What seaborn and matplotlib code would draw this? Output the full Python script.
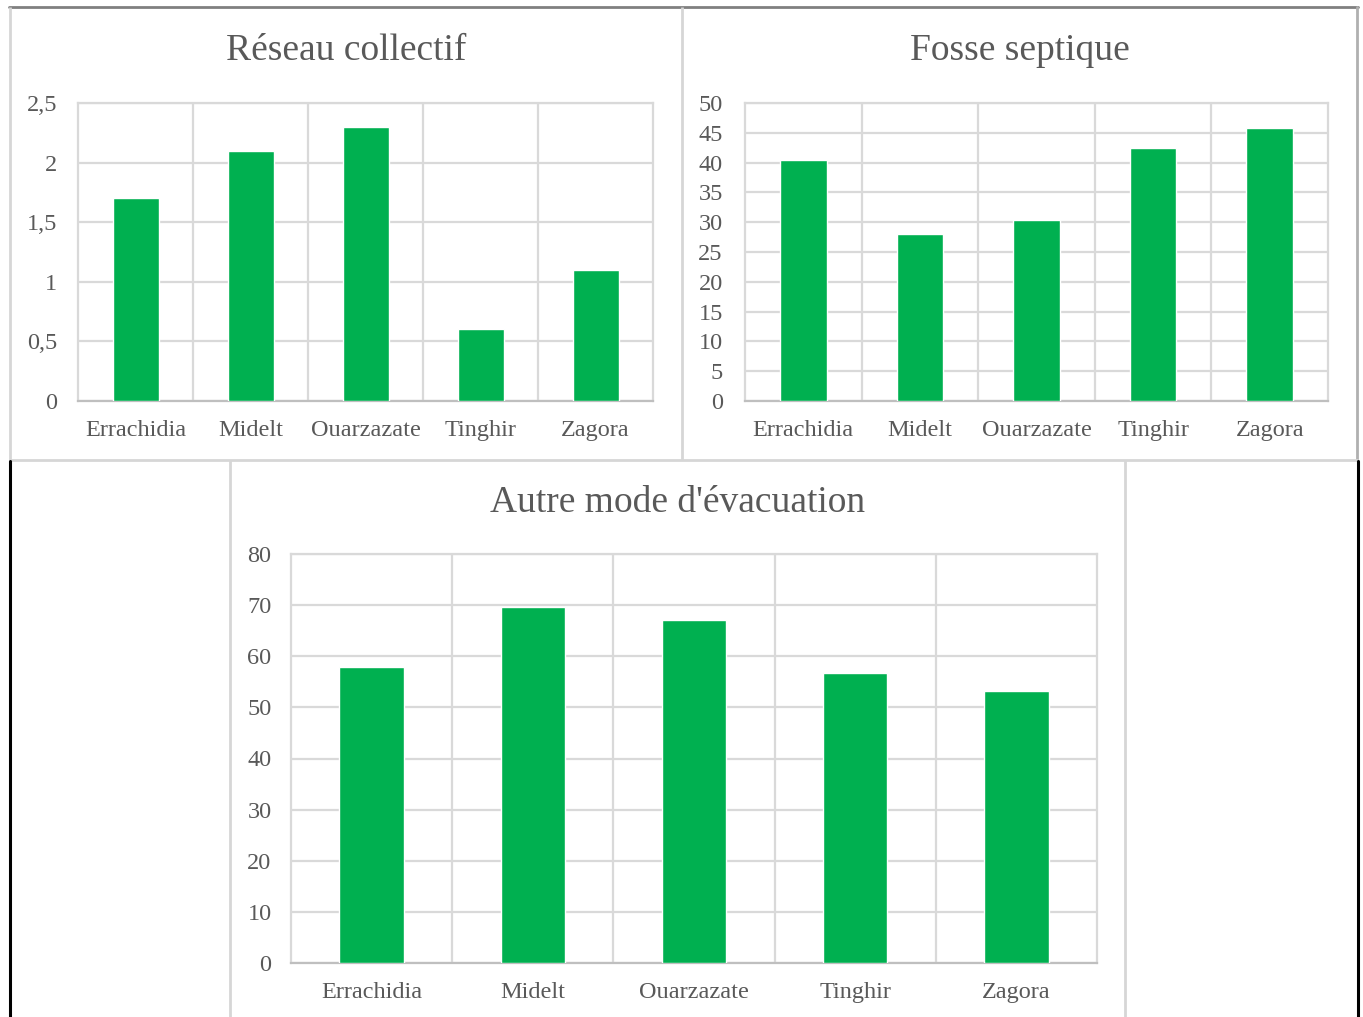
import matplotlib
matplotlib.use("Agg")
import matplotlib.pyplot as plt
import seaborn as sns
import pandas as pd
from matplotlib.ticker import FixedLocator, FuncFormatter

# Provinces and shares (%) for each wastewater disposal mode
provinces = ["Errachidia", "Midelt", "Ouarzazate", "Tinghir", "Zagora"]
reseau_collectif = [1.7, 2.1, 2.3, 0.6, 1.1]
fosse_septique = [40.4, 28.1, 30.4, 42.5, 45.8]
autre_mode = [57.8, 69.7, 67.0, 56.8, 53.2]

titles = ["Réseau collectif", "Fosse septique", "Autre mode d'évacuation"]
y_ticks = [
    [0, 0.5, 1, 1.5, 2, 2.5],
    [0, 5, 10, 15, 20, 25, 30, 35, 40, 45, 50],
    [0, 10, 20, 30, 40, 50, 60, 70, 80],
]

sns.set_theme(style="white")
plt.rcParams["font.family"] = ["Liberation Serif", "DejaVu Serif"]

W, H = 1363, 1017
DPI = 100
BAR = "#00B050"
TEXT = "#595959"
GRID = "#d9d9d9"

fig = plt.figure(figsize=(W / DPI, H / DPI), dpi=DPI)
fig.patch.set_facecolor("white")


def px_axes(left, top, right, bottom):
    return fig.add_axes([left / W, 1 - bottom / H, (right - left) / W, (bottom - top) / H])


def comma_fmt(v, _):
    s = f"{v:g}"
    return s.replace(".", ",")


def draw_panel(ax, values, ticks, pad_y):
    df = pd.DataFrame({"province": provinces, "valeur": values})
    sns.barplot(data=df, x="province", y="valeur", color=BAR, width=0.4,
                saturation=1, ax=ax, zorder=3)
    n = len(provinces)
    ax.set_xlim(-0.5, n - 0.5)
    ax.set_ylim(ticks[0], ticks[-1])
    ax.yaxis.set_major_locator(FixedLocator(ticks))
    ax.yaxis.set_major_formatter(FuncFormatter(comma_fmt))
    ax.xaxis.set_minor_locator(FixedLocator([i + 0.5 for i in range(n - 1)]))
    ax.grid(axis="y", which="major", color=GRID, linewidth=1.6, zorder=0)
    ax.grid(axis="x", which="minor", color=GRID, linewidth=1.6, zorder=0)
    ax.set_axisbelow(True)
    for side in ["left", "top", "right"]:
        ax.spines[side].set_visible(True)
        ax.spines[side].set_color(GRID)
        ax.spines[side].set_linewidth(1.6)
    ax.spines["bottom"].set_color("#bfbfbf")
    ax.spines["bottom"].set_linewidth(1.6)
    ax.set_xlabel("")
    ax.set_ylabel("")
    ax.tick_params(axis="both", which="both", length=0, labelsize=17.5, colors=TEXT)
    ax.tick_params(axis="x", pad=14)
    ax.tick_params(axis="y", pad=pad_y)


ax1 = px_axes(78, 103, 653, 401)
draw_panel(ax1, reseau_collectif, y_ticks[0], 15)
ax2 = px_axes(745, 103, 1328, 401)
draw_panel(ax2, fosse_septique, y_ticks[1], 16)
ax3 = px_axes(291, 554, 1097, 963)
draw_panel(ax3, autre_mode, y_ticks[2], 14)

# Panel titles, centred on each chart frame
fig.text(346 / W, 1 - 51 / H, titles[0], ha="center", va="center", fontsize=27, color=TEXT)
fig.text(1020 / W, 1 - 51 / H, titles[1], ha="center", va="center", fontsize=27, color=TEXT)
fig.text(678 / W, 1 - 503 / H, titles[2], ha="center", va="center", fontsize=27, color=TEXT)

# Chart frames
frame = fig.add_axes([0, 0, 1, 1], zorder=-1)
frame.set_xlim(0, W)
frame.set_ylim(H, 0)
frame.axis("off")
light = dict(color="#d6d6d6", linewidth=2.0, solid_capstyle="butt")
frame.plot([9, 1358], [7, 7], color="#808080", linewidth=2.0)
frame.plot([10, 10], [7, 460], **light)
frame.plot([682, 682], [7, 460], **light)
frame.plot([1357, 1357], [7, 460], color="#b0b0b0", linewidth=2.0)
frame.plot([10, 1358], [460, 460], **light)
frame.plot([230, 230], [460, H], **light)
frame.plot([1125, 1125], [460, H], **light)
frame.plot([10, 10], [461, H], color="black", linewidth=2.2)
frame.plot([1357.5, 1357.5], [461, H], color="black", linewidth=2.2)

fig.savefig("out.png", dpi=DPI, facecolor="white")
